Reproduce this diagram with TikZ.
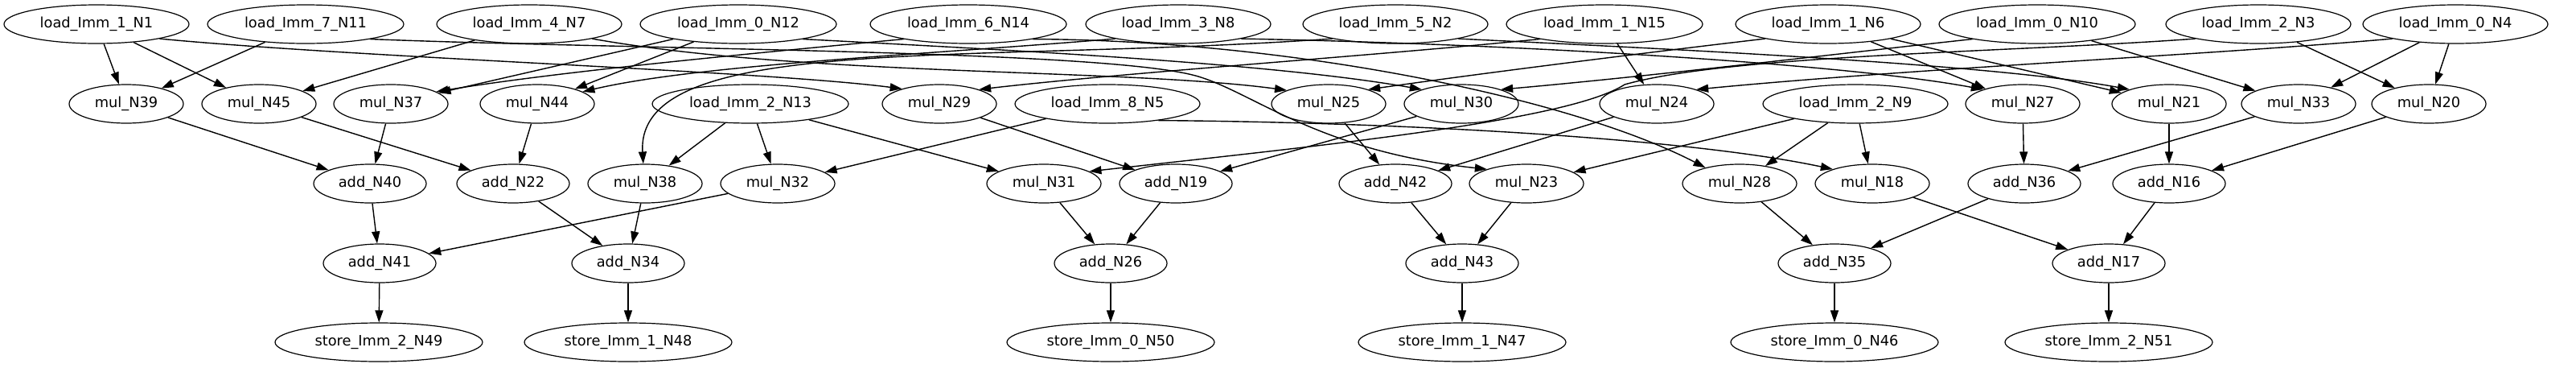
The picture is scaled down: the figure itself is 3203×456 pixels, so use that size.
\documentclass[tikz,border=0pt]{standalone}
\usepackage{fontspec}
\setmainfont{DejaVu Sans}
\usetikzlibrary{shapes.geometric,arrows.meta}
\begin{document}
\begin{tikzpicture}[x=0.5pt,y=-0.5pt,
  base/.style={ellipse,draw,line width=0.6pt,inner sep=0pt,minimum height=24pt,font=\fontsize{8.9}{10}\selectfont},
  ldA/.style={base,minimum width=115pt},
  ldB/.style={base,minimum width=122pt},
  mulb/.style={base,minimum width=71pt},
  addb/.style={base,minimum width=70pt},
  stb/.style={base,minimum width=129pt},
  e/.style={draw,line width=0.7pt,-{Triangle[length=7.5pt,width=5pt]}}]
\useasboundingbox (0,0) rectangle (3203,456);
% row 1
\node[ldA] (N1)  at (120,30)  {load\_Imm\_1\_N1};
\node[ldB] (N11) at (380,30)  {load\_Imm\_7\_N11};
\node[ldA] (N7)  at (658,30)  {load\_Imm\_4\_N7};
\node[ldB] (N12) at (918,30)  {load\_Imm\_0\_N12};
\node[ldB] (N14) at (1204,30) {load\_Imm\_6\_N14};
\node[ldA] (N8)  at (1465,30) {load\_Imm\_3\_N8};
\node[ldA] (N2)  at (1735,30) {load\_Imm\_5\_N2};
\node[ldB] (N15) at (1995,30) {load\_Imm\_1\_N15};
\node[ldA] (N6)  at (2273,30) {load\_Imm\_1\_N6};
\node[ldB] (N10) at (2533,30) {load\_Imm\_0\_N10};
\node[ldA] (N3)  at (2808,30) {load\_Imm\_2\_N3};
\node[ldA] (N4)  at (3053,30) {load\_Imm\_0\_N4};
% row 2
\node[mulb] (N39) at (157,129)  {mul\_N39};
\node[mulb] (N45) at (322,129)  {mul\_N45};
\node[mulb] (N37) at (486,129)  {mul\_N37};
\node[mulb] (N44) at (668,129)  {mul\_N44};
\node[ldB]  (N13) at (933,129)  {load\_Imm\_2\_N13};
\node[mulb] (N29) at (1168,129) {mul\_N29};
\node[ldA]  (N5)  at (1377,129) {load\_Imm\_8\_N5};
\node[mulb] (N25) at (1652,129) {mul\_N25};
\node[mulb] (N30) at (1817,129) {mul\_N30};
\node[mulb] (N24) at (2060,129) {mul\_N24};
\node[ldA]  (N9)  at (2307,129) {load\_Imm\_2\_N9};
\node[mulb] (N27) at (2515,129) {mul\_N27};
\node[mulb] (N21) at (2697,129) {mul\_N21};
\node[mulb] (N33) at (2858,129) {mul\_N33};
\node[mulb] (N20) at (3020,129) {mul\_N20};
% row 3
\node[addb] (N40) at (460,228)  {add\_N40};
\node[addb] (N22) at (638,228)  {add\_N22};
\node[mulb] (N38) at (802,228)  {mul\_N38};
\node[mulb] (N32) at (967,228)  {mul\_N32};
\node[mulb] (N31) at (1298,228) {mul\_N31};
\node[addb] (N19) at (1462,228) {add\_N19};
\node[addb] (N42) at (1735,228) {add\_N42};
\node[mulb] (N23) at (1898,228) {mul\_N23};
\node[mulb] (N28) at (2163,228) {mul\_N28};
\node[mulb] (N18) at (2328,228) {mul\_N18};
\node[addb] (N36) at (2517,228) {add\_N36};
\node[addb] (N16) at (2697,228) {add\_N16};
% row 4
\node[addb] (N41) at (472,327)  {add\_N41};
\node[addb] (N34) at (781,327)  {add\_N34};
\node[addb] (N26) at (1381,327) {add\_N26};
\node[addb] (N43) at (1818,327) {add\_N43};
\node[addb] (N35) at (2281,327) {add\_N35};
\node[addb] (N17) at (2622,327) {add\_N17};
% row 5
\node[stb] (N49) at (471,425)  {store\_Imm\_2\_N49};
\node[stb] (N48) at (781,425)  {store\_Imm\_1\_N48};
\node[stb] (N50) at (1381,425) {store\_Imm\_0\_N50};
\node[stb] (N47) at (1818,425) {store\_Imm\_1\_N47};
\node[stb] (N46) at (2281,425) {store\_Imm\_0\_N46};
\node[stb] (N51) at (2622,425) {store\_Imm\_2\_N51};
% load -> mul, short
\draw[e] (N1) -- (N39);
\draw[e] (N1) -- (N45);
\draw[e] (N11) -- (N39);
\draw[e] (N7) -- (N45);
\draw[e] (N12) -- (N37);
\draw[e] (N12) -- (N44);
\draw[e] (N15) -- (N24);
\draw[e] (N6) -- (N27);
\draw[e] (N6) -- (N21);
\draw[e] (N10) -- (N33);
\draw[e] (N4) -- (N33);
\draw[e] (N4) -- (N20);
\draw[e] (N3) -- (N20);
\draw[e] (N13) -- (N38);
\draw[e] (N13) -- (N32);
\draw[e] (N13) -- (N31);
\draw[e] (N5) -- (N32);
\draw[e] (N5.-18) .. controls (1750,152) and (2100,172) .. (N18.160);
\draw[e] (N9) -- (N23);
\draw[e] (N9) -- (N28);
\draw[e] (N9) -- (N18);
% long, rightward
\draw[e] (N1.-13) .. controls (450,72) and (950,88) .. (N29.158);
\draw[e] (N7.-13) .. controls (1000,95) and (1400,85) .. (N25.162);
\draw[e] (N12.-13) .. controls (1250,62) and (1580,78) .. (N30.160);
\draw[e] (N11.-13) .. controls (800,62) and (1380,62) .. (1490,95)
                   .. controls (1560,116) and (1640,188) .. (N23.160);
\draw[e] (N14.-13) .. controls (1600,50) and (1950,120) .. (N28.155);
\draw[e] (N8.-13) .. controls (1900,55) and (2300,80) .. (N27.160);
\draw[e] (N2.-13) .. controls (2100,62) and (2480,80) .. (N21.160);
% long, leftward
\draw[e] (N14.193) .. controls (950,65) and (700,88) .. (N37.15);
\draw[e] (N8.193) .. controls (1150,68) and (870,80) .. (N44.15);
\draw[e] (N2.193) .. controls (1200,80) and (790,40) .. (N38.95);
\draw[e] (N15.193) .. controls (1700,70) and (1400,90) .. (N29.20);
\draw[e] (N6.193) .. controls (2050,65) and (1850,90) .. (N25.20);
\draw[e] (N10.193) .. controls (2300,65) and (2050,95) .. (N30.20);
\draw[e] (N3.193) .. controls (2500,65) and (2150,68) .. (2020,105)
                  .. controls (1950,150) and (1650,180) .. (N31.15);
\draw[e] (N4.193) .. controls (2750,68) and (2380,85) .. (N24.20);
% row 2 -> row 3
\draw[e] (N39) -- (N40);
\draw[e] (N37) -- (N40);
\draw[e] (N45) -- (N22);
\draw[e] (N44) -- (N22);
\draw[e] (N29) -- (N19);
\draw[e] (N30) -- (N19);
\draw[e] (N25) -- (N42);
\draw[e] (N24) -- (N42);
\draw[e] (N27) -- (N36);
\draw[e] (N33) -- (N36);
\draw[e] (N21) -- (N16);
\draw[e] (N20) -- (N16);
% row 3 -> row 4
\draw[e] (N40) -- (N41);
\draw[e] (N32) -- (N41);
\draw[e] (N22) -- (N34);
\draw[e] (N38) -- (N34);
\draw[e] (N31) -- (N26);
\draw[e] (N19) -- (N26);
\draw[e] (N42) -- (N43);
\draw[e] (N23) -- (N43);
\draw[e] (N28) -- (N35);
\draw[e] (N36) -- (N35);
\draw[e] (N18) -- (N17);
\draw[e] (N16) -- (N17);
% row 4 -> row 5
\draw[e] (N41) -- (N49);
\draw[e] (N34) -- (N48);
\draw[e] (N26) -- (N50);
\draw[e] (N43) -- (N47);
\draw[e] (N35) -- (N46);
\draw[e] (N17) -- (N51);
\end{tikzpicture}
\end{document}
